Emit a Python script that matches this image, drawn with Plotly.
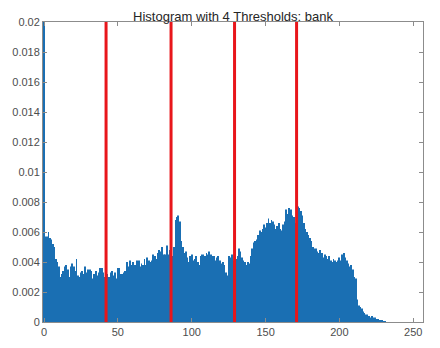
import plotly.graph_objects as go

# grey levels 0..255
levels = list(range(256))

# normalised histogram
freq = [
    0.0245, 0.0057, 0.0057, 0.0060, 0.0056, 0.0055, 0.0052, 0.0050,
    0.0042, 0.0040, 0.0037, 0.0030, 0.0032, 0.0034, 0.0037, 0.0038,
    0.0035, 0.0030, 0.0037, 0.0039, 0.0037, 0.0034, 0.0042, 0.0031,
    0.0030, 0.0033, 0.0034, 0.0032, 0.0037, 0.0033, 0.0035, 0.0035,
    0.0034, 0.0029, 0.0032, 0.0034, 0.0031, 0.0033, 0.0036, 0.0036,
    0.0033, 0.0030, 0.0028, 0.0032, 0.0030, 0.0033, 0.0034, 0.0031,
    0.0033, 0.0029, 0.0036, 0.0036, 0.0032, 0.0032, 0.0033, 0.0034,
    0.0040, 0.0037, 0.0041, 0.0038, 0.0040, 0.0038, 0.0038, 0.0041,
    0.0041, 0.0037, 0.0039, 0.0038, 0.0042, 0.0038, 0.0043, 0.0041,
    0.0040, 0.0041, 0.0045, 0.0044, 0.0042, 0.0046, 0.0048, 0.0047,
    0.0050, 0.0045, 0.0045, 0.0051, 0.0045, 0.0048, 0.0046, 0.0044,
    0.0050, 0.0068, 0.0070, 0.0071, 0.0067, 0.0054, 0.0050, 0.0046,
    0.0047, 0.0043, 0.0040, 0.0044, 0.0045, 0.0041, 0.0042, 0.0044,
    0.0040, 0.0038, 0.0044, 0.0045, 0.0045, 0.0044, 0.0046, 0.0045,
    0.0047, 0.0045, 0.0044, 0.0044, 0.0041, 0.0043, 0.0044, 0.0041,
    0.0039, 0.0040, 0.0038, 0.0033, 0.0031, 0.0044, 0.0043, 0.0045,
    0.0041, 0.0043, 0.0042, 0.0044, 0.0049, 0.0047, 0.0043, 0.0041,
    0.0040, 0.0038, 0.0040, 0.0039, 0.0044, 0.0049, 0.0053, 0.0054,
    0.0055, 0.0058, 0.0061, 0.0060, 0.0062, 0.0065, 0.0063, 0.0066,
    0.0069, 0.0066, 0.0068, 0.0067, 0.0065, 0.0062, 0.0064, 0.0066,
    0.0062, 0.0061, 0.0065, 0.0067, 0.0075, 0.0072, 0.0076, 0.0075,
    0.0071, 0.0070, 0.0066, 0.0072, 0.0077, 0.0076, 0.0074, 0.0071,
    0.0066, 0.0062, 0.0060, 0.0058, 0.0056, 0.0054, 0.0050, 0.0049,
    0.0049, 0.0047, 0.0046, 0.0048, 0.0046, 0.0043, 0.0045, 0.0044,
    0.0042, 0.0044, 0.0041, 0.0040, 0.0042, 0.0041, 0.0040, 0.0041,
    0.0043, 0.0041, 0.0045, 0.0046, 0.0043, 0.0041, 0.0039, 0.0037,
    0.0038, 0.0035, 0.0030, 0.0029, 0.0015, 0.0011, 0.0010, 0.0009,
    0.0007, 0.0006, 0.0005, 0.0005, 0.0004, 0.0003, 0.0004, 0.0003,
    0.0003, 0.0002, 0.0002, 0.0001, 0.0001, 0.0001, 0.00005, 0.00005,
    0, 0, 0, 0, 0, 0, 0, 0,
    0, 0, 0, 0, 0, 0, 0, 0,
    0, 0, 0, 0, 0, 0, 0, 0,
]

thresholds = [42, 86, 129, 171]
image_name = "bank"

y_ticks = [0, 0.002, 0.004, 0.006, 0.008, 0.01, 0.012, 0.014, 0.016, 0.018, 0.02]
y_labels = ["0", "0.002", "0.004", "0.006", "0.008", "0.01", "0.012",
            "0.014", "0.016", "0.018", "0.02"]
x_ticks = [0, 50, 100, 150, 200, 250]

fig = go.Figure()
fig.add_trace(go.Bar(x=levels, y=freq, marker_color="#1a6fb3",
                     marker_line_width=0, width=0.62))

for t in thresholds:
    fig.add_trace(go.Scatter(x=[t, t], y=[0, 0.02], mode="lines",
                             line=dict(color="#e8161b", width=3)))

axis_style = dict(showline=True, linecolor="#8c8c8c", linewidth=1, mirror="ticks",
                  ticks="inside", ticklen=4, tickcolor="#8c8c8c",
                  showgrid=False, zeroline=False, automargin=False,
                  tickfont=dict(size=11, color="#4d4d4d"))

fig.update_xaxes(range=[-0.7, 256.6], tickvals=x_ticks, **axis_style)
fig.update_yaxes(range=[0, 0.02], tickvals=y_ticks, ticktext=y_labels, **axis_style)

fig.update_layout(
    width=440, height=348,
    margin=dict(l=43, r=17, t=22, b=26),
    paper_bgcolor="white", plot_bgcolor="white",
    showlegend=False,
    font=dict(family="Liberation Sans, Arial, sans-serif"),
    title=dict(text="Histogram with 4 Thresholds: " + image_name,
               x=0.5, xref="paper", y=0.967, yref="container",
               font=dict(size=13, color="#262626")),
)

# drop the browser's default page margin so the figure sits at the window corner
fig.write_html("out.html", config={"displayModeBar": False},
               post_script="document.body.style.margin='0';")
